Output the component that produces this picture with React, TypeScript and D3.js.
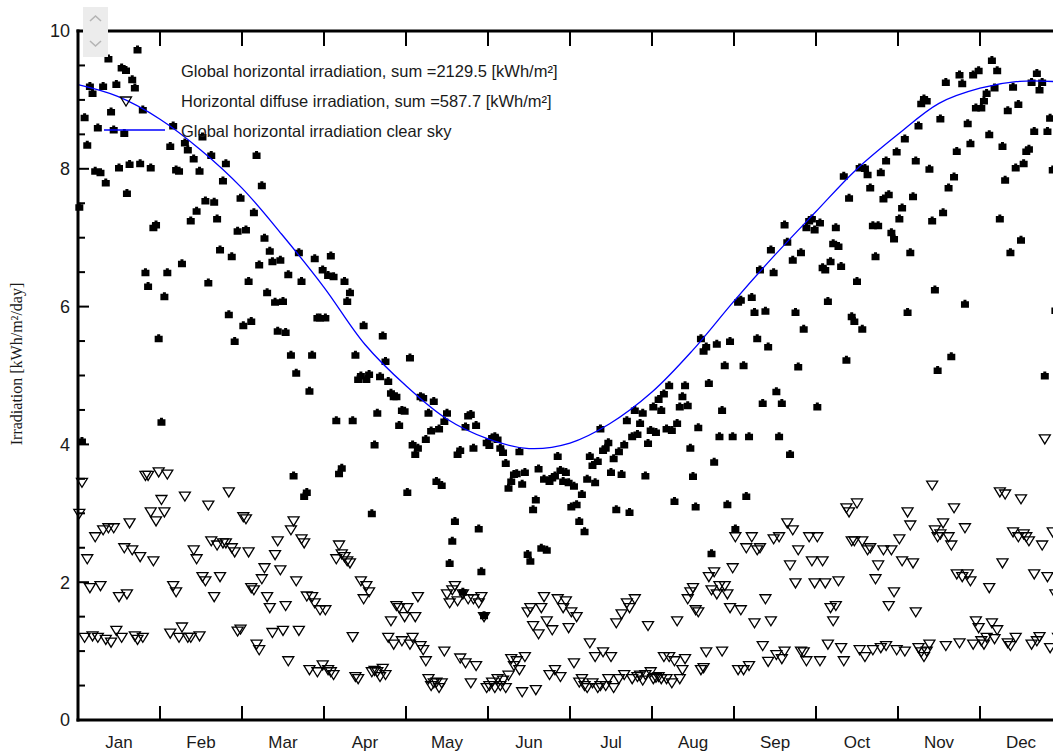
import React, { useEffect, useRef } from 'react';
import * as d3 from 'd3';

const months = ['Jan', 'Feb', 'Mar', 'Apr', 'May', 'Jun', 'Jul', 'Aug', 'Sep', 'Oct', 'Nov', 'Dec'];
const daysInMonth = [31, 28, 31, 30, 31, 30, 31, 31, 30, 31, 30, 31];

// daily global horizontal irradiation [kWh/m²/day], one array per month
const globalJan = [7.45, 4.05, 8.75, 8.35, 9.2, 9.1, 7.97, 8.6, 7.95, 9.2, 7.8, 9.6, 8.83, 8.57, 9.23, 8.02, 9.47, 8.52, 7.65, 8.07, 9.3, 9.18, 9.73, 8.08, 8.86, 6.5, 6.3, 8.02, 7.15, 7.19, 5.54];
const globalFeb = [4.33, 6.15, 6.5, 8.33, 8.63, 7.99, 7.97, 6.63, 8.38, 8.28, 7.25, 8.15, 7.39, 7.97, 8.47, 7.54, 6.35, 8.2, 7.52, 7.28, 6.83, 7.83, 8.08, 5.89, 6.73, 5.5, 7.1, 7.58];
const globalMar = [5.73, 7.12, 6.37, 5.79, 7.37, 8.2, 6.61, 7.76, 7.0, 6.21, 6.81, 6.66, 6.07, 5.65, 6.68, 6.08, 5.63, 6.47, 5.3, 3.55, 5.04, 6.79, 6.37, 3.25, 3.31, 4.78, 5.3, 6.7, 5.84, 5.84, 6.54];
const globalApr = [5.84, 6.46, 6.74, 6.44, 4.35, 3.58, 3.66, 6.37, 6.08, 6.21, 4.35, 5.3, 4.95, 5.0, 5.73, 4.95, 5.02, 3.0, 4.0, 4.46, 4.99, 5.58, 5.21, 4.92, 4.75, 4.7, 4.7, 4.28, 4.5, 4.49];
const globalMay = [3.31, 5.26, 4.0, 3.86, 3.95, 4.7, 4.68, 4.08, 4.46, 4.2, 4.63, 3.47, 4.23, 3.41, 4.34, 4.46, 2.28, 2.6, 2.89, 3.86, 3.92, 1.86, 4.26, 4.42, 4.44, 3.95, 4.28, 2.78, 2.16, 1.52, 4.03];
const globalJun = [3.99, 4.1, 4.12, 4.08, 3.95, 3.89, 3.73, 3.37, 3.47, 3.57, 3.58, 3.9, 3.43, 3.6, 2.41, 2.31, 3.06, 3.2, 3.65, 2.5, 3.5, 2.47, 3.47, 3.52, 3.55, 3.83, 3.63, 3.47, 3.6, 3.45];
const globalJul = [3.1, 3.4, 3.13, 2.89, 3.28, 2.74, 3.5, 3.83, 3.7, 3.45, 3.76, 4.23, 3.92, 3.95, 4.03, 3.6, 3.8, 3.06, 3.9, 3.57, 4.0, 4.35, 3.02, 4.12, 4.5, 4.15, 4.31, 4.46, 3.55, 4.02, 4.21];
const globalAug = [4.55, 4.18, 4.66, 4.5, 4.74, 4.23, 4.86, 4.21, 3.18, 4.31, 4.55, 4.7, 4.86, 4.57, 3.95, 3.54, 3.1, 4.25, 5.54, 5.36, 5.42, 4.89, 2.42, 3.75, 5.46, 4.12, 4.5, 5.15, 3.13, 5.5, 4.12];
const globalSep = [2.78, 6.07, 6.1, 5.15, 3.25, 4.12, 6.14, 5.92, 5.54, 6.54, 4.6, 5.94, 5.42, 6.83, 6.5, 4.77, 4.12, 4.6, 7.19, 6.94, 3.86, 6.68, 5.92, 5.13, 6.79, 5.68, 7.15, 7.25, 7.28, 7.12];
const globalOct = [4.55, 7.22, 6.57, 6.54, 6.08, 6.66, 6.92, 7.15, 6.88, 6.59, 7.9, 5.23, 7.58, 5.86, 5.79, 6.37, 8.02, 5.68, 8.01, 7.92, 7.73, 7.18, 6.73, 7.18, 7.95, 7.57, 8.12, 7.63, 7.08, 6.99, 8.25];
const globalNov = [7.28, 7.44, 8.44, 5.92, 6.79, 7.6, 8.12, 8.63, 8.95, 9.02, 8.99, 8.0, 7.25, 6.25, 5.08, 8.73, 7.37, 9.26, 7.73, 5.28, 7.89, 8.26, 9.37, 9.24, 6.04, 8.66, 8.37, 9.37, 8.89, 9.43];
const globalDec = [8.89, 8.99, 9.1, 8.5, 9.58, 9.18, 9.43, 7.28, 8.33, 7.84, 8.85, 6.79, 9.19, 8.02, 8.94, 6.97, 8.08, 8.26, 8.29, 9.26, 8.55, 9.39, 9.15, 9.26, 5.0, 8.55, 8.74, 7.99, 5.95, 9.0, 8.4];

// daily horizontal diffuse irradiation [kWh/m²/day]
const diffuseJan = [3.0, 3.45, 1.2, 2.34, 1.92, 1.22, 2.66, 1.2, 1.95, 2.76, 1.17, 2.79, 1.13, 2.79, 1.3, 1.79, 1.2, 2.5, 1.83, 2.86, 2.47, 1.22, 1.17, 2.37, 1.2, 3.55, 3.55, 3.02, 2.31, 2.89, 3.6];
const diffuseFeb = [3.2, 3.02, 3.57, 1.26, 1.95, 1.86, 1.2, 1.35, 3.25, 1.2, 1.2, 2.47, 2.34, 1.22, 2.08, 2.02, 3.12, 2.6, 1.79, 2.54, 2.08, 2.57, 2.57, 3.31, 2.5, 2.44, 1.29, 1.32];
const diffuseMar = [2.95, 2.92, 2.44, 1.92, 1.89, 1.1, 1.02, 2.05, 2.21, 1.79, 1.63, 1.27, 2.4, 2.6, 2.18, 1.3, 1.66, 0.86, 2.76, 2.89, 2.02, 1.3, 2.63, 2.57, 1.8, 0.73, 1.79, 1.7, 0.7, 1.6, 0.8];
const diffuseApr = [1.6, 0.73, 0.7, 0.66, 2.34, 2.54, 2.41, 2.37, 2.31, 2.28, 1.21, 0.63, 0.6, 2.02, 1.76, 1.95, 1.86, 0.7, 0.72, 0.7, 0.63, 0.75, 0.66, 1.2, 1.44, 1.1, 1.66, 1.63, 1.15, 1.5];
const diffuseMay = [1.63, 1.1, 1.2, 1.5, 1.79, 1.08, 1.02, 0.86, 0.6, 0.5, 0.54, 0.55, 0.47, 0.54, 1.0, 1.83, 1.7, 1.89, 1.95, 1.73, 0.9, 1.83, 0.83, 1.76, 0.54, 1.76, 0.79, 1.7, 1.79, 1.5, 0.47];
const diffuseJun = [0.5, 0.55, 0.47, 0.6, 0.5, 0.58, 0.47, 0.65, 0.89, 0.79, 0.86, 0.73, 0.41, 0.92, 1.57, 1.63, 1.37, 0.44, 1.25, 1.63, 1.79, 1.44, 0.66, 1.31, 0.73, 1.76, 0.63, 1.63, 1.73, 1.34];
const diffuseJul = [1.57, 0.83, 1.5, 0.55, 0.6, 0.5, 0.47, 1.12, 0.54, 0.92, 0.47, 0.5, 0.99, 0.5, 0.6, 0.92, 0.47, 1.41, 0.6, 1.54, 0.66, 1.7, 1.63, 0.6, 1.76, 0.63, 0.65, 0.58, 0.66, 1.37, 0.7];
const diffuseAug = [0.6, 0.62, 0.63, 0.6, 0.92, 0.6, 0.92, 0.54, 0.86, 1.44, 0.6, 0.73, 0.89, 1.76, 1.86, 1.92, 1.6, 1.57, 0.73, 0.76, 0.99, 2.08, 1.89, 2.15, 1.83, 1.95, 1.0, 1.95, 1.83, 1.63, 2.21];
const diffuseSep = [2.66, 0.73, 1.6, 0.73, 2.5, 0.79, 2.66, 1.41, 2.47, 2.5, 1.08, 1.76, 0.85, 1.44, 2.63, 0.95, 2.66, 0.89, 1.0, 2.86, 2.25, 2.76, 1.99, 2.47, 1.0, 0.99, 0.86, 2.66, 2.31, 1.99];
const diffuseOct = [2.66, 0.86, 2.31, 1.99, 1.1, 1.63, 1.44, 1.66, 2.02, 1.05, 0.86, 3.08, 3.02, 2.6, 2.6, 3.15, 1.02, 2.6, 0.92, 2.47, 2.5, 1.02, 2.05, 2.25, 1.05, 2.47, 1.08, 1.66, 2.47, 1.86, 1.02];
const diffuseNov = [2.63, 2.31, 1.0, 3.02, 2.83, 2.28, 1.57, 1.05, 0.99, 0.92, 1.0, 1.1, 3.41, 2.76, 2.66, 2.7, 2.86, 1.08, 2.66, 2.54, 3.08, 2.12, 1.12, 2.08, 2.79, 2.12, 2.02, 1.1, 1.44, 1.34];
const diffuseDec = [1.15, 1.1, 1.2, 1.92, 1.41, 1.18, 1.31, 3.31, 2.28, 3.28, 1.12, 1.08, 2.73, 1.2, 2.66, 3.21, 2.7, 2.66, 2.6, 1.1, 2.12, 1.15, 1.21, 2.54, 4.08, 2.08, 1.05, 2.73, 1.83, 1.2, 1.7];

// clear sky model, sampled at day of year
const clearSkyDays = [0, 15, 31, 45, 59, 74, 90, 105, 120, 135, 151, 166, 181, 196, 212, 227, 243, 258, 273, 288, 304, 319, 334, 349, 365];
const clearSkyValues = [9.22, 9.05, 8.72, 8.27, 7.72, 7.05, 6.28, 5.45, 4.85, 4.38, 4.08, 3.94, 4.02, 4.3, 4.76, 5.35, 6.08, 6.75, 7.38, 7.98, 8.5, 8.95, 9.17, 9.27, 9.26];

const yLabels = [0, 2, 4, 6, 8, 10];
const legendTexts = [
  'Global horizontal irradiation, sum =2129.5 [kWh/m²]',
  'Horizontal diffuse irradiation, sum =587.7 [kWh/m²]',
  'Global horizontal irradiation clear sky',
];

const globalByMonth = [globalJan, globalFeb, globalMar, globalApr, globalMay, globalJun, globalJul, globalAug, globalSep, globalOct, globalNov, globalDec];
const diffuseByMonth = [diffuseJan, diffuseFeb, diffuseMar, diffuseApr, diffuseMay, diffuseJun, diffuseJul, diffuseAug, diffuseSep, diffuseOct, diffuseNov, diffuseDec];

const W = 1053;
const H = 753;

const App: React.FC = () => {
  const svgRef = useRef<SVGSVGElement>(null);

  useEffect(() => {
    if (!svgRef.current) return;
    const svg = d3.select(svgRef.current);
    svg.selectAll('*').remove();

    const left = 78, right = 1062, top = 31, bottom = 720;
    const monthStarts = [0, ...Array.from(d3.cumsum(daysInMonth))];

    // months are drawn with equal width
    const x = d3.scaleLinear()
      .domain(monthStarts)
      .range(monthStarts.map((_, i) => left + (i * (right - left)) / 12));
    const y = d3.scaleLinear().domain([0, 10]).range([bottom, top]);

    const toPoints = (byMonth: number[][]) =>
      byMonth.flatMap((arr, m) =>
        arr.map((v, i) => ({ day: monthStarts[m] + (i + 0.5) * (daysInMonth[m] / arr.length), v }))
      );
    const globalPts = toPoints(globalByMonth);
    const diffusePts = toPoints(diffuseByMonth);

    const font = "'Liberation Sans', Arial, sans-serif";
    const squarePath = 'M-4,-2.5 L-1.5,-2.5 L-1.5,-4 L1.5,-4 L1.5,-2.5 L4,-2.5 L4,4 L-4,4 Z';
    const triPath = 'M-5.5,-4 L5.5,-4 L0,5 Z';

    // diffuse triangles
    svg.append('g')
      .selectAll('path')
      .data(diffusePts)
      .join('path')
      .attr('d', triPath)
      .attr('transform', d => `translate(${x(d.day)},${y(d.v)})`)
      .attr('fill', 'none')
      .attr('stroke', '#000')
      .attr('stroke-width', 1.3);

    // global squares
    svg.append('g')
      .selectAll('path')
      .data(globalPts)
      .join('path')
      .attr('d', squarePath)
      .attr('transform', d => `translate(${x(d.day)},${y(d.v)})`)
      .attr('fill', '#000');

    // clear sky curve
    const line = d3.line<number>()
      .x((_, i) => x(clearSkyDays[i]))
      .y(d => y(d))
      .curve(d3.curveCatmullRom.alpha(0.5));
    svg.append('path')
      .attr('d', line(clearSkyValues) as string)
      .attr('fill', 'none')
      .attr('stroke', '#0000ff')
      .attr('stroke-width', 1.3);

    // frame as filled bars so the thickness is exact
    const bar = (bx: number, by: number, bw: number, bh: number) =>
      svg.append('rect').attr('x', bx).attr('y', by).attr('width', bw).attr('height', bh).style('fill', '#000');
    bar(left - 1.5, top - 1.5, 3, bottom - top + 3);
    bar(left - 1.5, top - 1.5, right - left + 3, 3);
    bar(left - 1.5, bottom - 1.5, right - left + 3, 3);
    bar(right - 1.5, top - 1.5, 3, bottom - top + 3);

    // y ticks every 0.5
    d3.range(0, 10.01, 0.5).forEach(v => {
      const len = v % 2 === 0 ? 11 : 7;
      bar(left, y(v) - 1, len, 2);
    });
    // month ticks, bottom and top
    monthStarts.slice(1, 12).forEach(d => {
      bar(x(d) - 1, bottom - 14, 2, 14);
      bar(x(d) - 1, top, 2, 15);
    });

    // y labels
    svg.append('g')
      .selectAll('text')
      .data(yLabels)
      .join('text')
      .attr('x', 70)
      .attr('y', d => y(d))
      .attr('dy', '0.36em')
      .attr('text-anchor', 'end')
      .attr('font-family', font)
      .attr('font-size', 18)
      .attr('fill', '#1a1a1a')
      .text(d => d);

    // month labels
    svg.append('g')
      .selectAll('text')
      .data(months)
      .join('text')
      .attr('x', (_, i) => x((monthStarts[i] + monthStarts[i + 1]) / 2))
      .attr('y', 748)
      .attr('text-anchor', 'middle')
      .attr('font-family', font)
      .attr('font-size', 17)
      .attr('fill', '#1a1a1a')
      .text(d => d);

    // y title
    svg.append('text')
      .attr('transform', 'translate(22,364) rotate(-90)')
      .attr('text-anchor', 'middle')
      .attr('font-family', "'Liberation Serif', 'Times New Roman', serif")
      .attr('font-size', 16)
      .attr('fill', '#1a1a1a')
      .text('Irradiation [kWh/m²/day]');

    // legend
    const legend = svg.append('g');
    legend.append('path').attr('d', squarePath).attr('transform', 'translate(126,70)').attr('fill', '#000');
    legend.append('path').attr('d', triPath).attr('transform', 'translate(126,101)')
      .attr('fill', 'none').attr('stroke', '#000').attr('stroke-width', 1.3);
    legend.append('line').attr('x1', 104).attr('x2', 165).attr('y1', 130).attr('y2', 130)
      .attr('stroke', '#0000ff').attr('stroke-width', 1.5);
    legend.selectAll('text')
      .data(legendTexts)
      .join('text')
      .attr('x', 181)
      .attr('y', (_, i) => 71 + i * 30)
      .attr('dy', '0.36em')
      .attr('font-family', font)
      .attr('font-size', 16.5)
      .attr('fill', '#1a1a1a')
      .text(d => d);

    // little scroll widget in the corner
    const scroll = svg.append('g');
    scroll.append('rect').attr('x', 83).attr('y', 7).attr('width', 25).attr('height', 50).attr('fill', '#ececec');
    scroll.append('path').attr('d', 'M90,21 L95.5,16 L101,21').attr('fill', 'none').attr('stroke', '#b4b4b4').attr('stroke-width', 1.6);
    scroll.append('path').attr('d', 'M90,41 L95.5,46 L101,41').attr('fill', 'none').attr('stroke', '#b4b4b4').attr('stroke-width', 1.6);
  }, []);

  return (
    <div style={{ position: 'absolute', left: 0, top: 0, background: '#fff' }}>
      <svg ref={svgRef} width={W} height={H} viewBox={`0 0 ${W} ${H}`} style={{ display: 'block' }} />
    </div>
  );
};

export default App;
